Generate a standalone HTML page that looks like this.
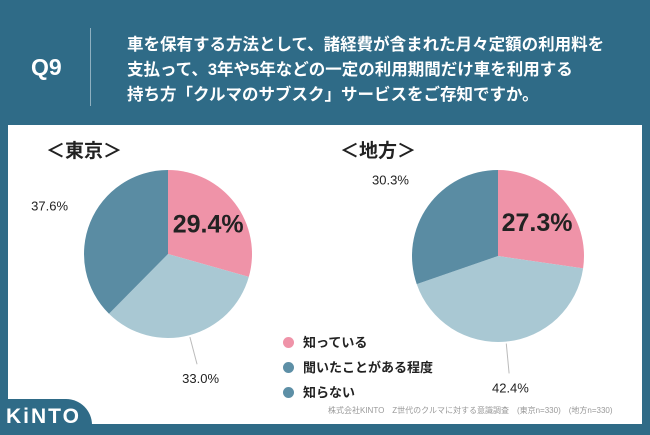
<!DOCTYPE html>
<html><head><meta charset="utf-8"><style>
body{margin:0;width:650px;height:434px;background:#2f6b87;position:relative;overflow:hidden;font-family:"Liberation Sans","Noto Sans CJK JP",sans-serif}
.abs{position:absolute}
</style></head><body>
<div class="abs" style="left:31px;top:54px;color:#fff;font-size:23px;font-weight:bold">Q9</div>
<div class="abs" style="left:90px;top:28px;width:1px;height:78px;background:#8fb0c0"></div>
<div class="abs" style="left:127px;top:33px;color:#fff;font-size:16.5px;font-weight:bold;line-height:25px;white-space:nowrap">車を保有する方法として、諸経費が含まれた月々定額の利用料を<br>支払って、3年や5年などの一定の利用期間だけ車を利用する<br>持ち方「クルマのサブスク」サービスをご存知ですか。</div>
<div class="abs" style="left:8px;top:125px;width:634px;height:299px;background:#fff"></div>
<div class="abs" style="left:0;top:399px;width:92px;height:35px;background:#2f6b87;border-top-right-radius:26px;color:#fff;font-size:21px;font-weight:bold;letter-spacing:2px;line-height:36px;padding-left:6px;box-sizing:border-box">KiNTO</div>
<div class="abs" style="left:328px;top:405px;color:#999;font-size:8px;white-space:nowrap">株式会社KINTO　Z世代のクルマに対する意識調査　(東京n=330)　(地方n=330)</div>
<div class="abs" style="left:46px;top:136px;font-size:19px;font-weight:bold;color:#222">＜東京＞</div>
<div class="abs" style="left:340px;top:136px;font-size:19px;font-weight:bold;color:#222">＜地方＞</div>
<svg class="abs" style="left:0;top:0" width="650" height="434" id="svg"></svg>
<div class="abs" style="left:283px;top:330px;font-size:13px;font-weight:bold;color:#222;line-height:25px">
<div><span style="display:inline-block;width:11px;height:11px;border-radius:50%;background:#ef93a8;margin-right:9px;vertical-align:-1px"></span>知っている</div>
<div><span style="display:inline-block;width:11px;height:11px;border-radius:50%;background:#5d8fa6;margin-right:9px;vertical-align:-1px"></span>聞いたことがある程度</div>
<div><span style="display:inline-block;width:11px;height:11px;border-radius:50%;background:#5d8fa6;margin-right:9px;vertical-align:-1px"></span>知らない</div>
</div>
<script>
const categories=["知っている","聞いたことがある程度","知らない"];
const tokyoValues=[29.4,33.0,37.6];
const chihouValues=[27.3,42.4,30.3];
const colors=["#ef93a8","#a9c8d3","#5a8ca3"];
const svg=document.getElementById('svg');
const NS="http://www.w3.org/2000/svg";
function pt(cx,cy,r,f){const a=2*Math.PI*f-Math.PI/2;return [cx+r*Math.cos(a),cy+r*Math.sin(a)];}
function pie(name,vals,cx,cy,r,labelR,lines){
 const tot=vals.reduce((a,b)=>a+b,0);let acc=0;
 vals.forEach((v,i)=>{
  const f0=acc/tot,f1=(acc+v)/tot;acc+=v;
  const p0=pt(cx,cy,r,f0),p1=pt(cx,cy,r,f1);
  const p=document.createElementNS(NS,'path');
  p.setAttribute('d',`M${cx},${cy}L${p0[0]},${p0[1]}A${r},${r} 0 ${f1-f0>0.5?1:0} 1 ${p1[0]},${p1[1]}Z`);
  p.setAttribute('fill',colors[i]);
  
  
  svg.appendChild(p);
  const mid=(f0+f1)/2;
  const t=document.createElementNS(NS,'text');
  t.textContent=v.toFixed(1)+'%';
  let lp;
  if(i===0){lp=pt(cx,cy,r*0.6,mid);t.setAttribute('font-size','25');t.setAttribute('font-weight','bold');}
  else{lp=pt(cx,cy,labelR,mid);t.setAttribute('font-size','13');
   if(lines&&i===1){const a=pt(cx,cy,r+2,mid),b=pt(cx,cy,labelR-14,mid);
    const l=document.createElementNS(NS,'line');l.setAttribute('x1',a[0]);l.setAttribute('y1',a[1]);l.setAttribute('x2',b[0]);l.setAttribute('y2',b[1]);l.setAttribute('stroke','#bbb');
    
    
    svg.appendChild(l);}}
  t.setAttribute('x',lp[0]);t.setAttribute('y',lp[1]+(i===0?9:5));
  t.setAttribute('text-anchor','middle');t.setAttribute('fill','#222');
  t.setAttribute('font-family','Liberation Sans, sans-serif');
  
  
  svg.appendChild(t);
 });
}
pie('tokyo',tokyoValues,168,254,84,128,true);
pie('chihou',chihouValues,498,256,86,132,true);
</script>
</body></html>
